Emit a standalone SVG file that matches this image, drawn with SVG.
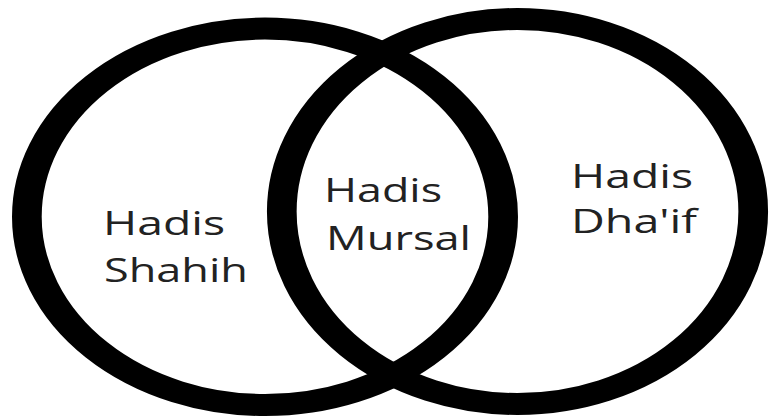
<svg xmlns="http://www.w3.org/2000/svg" width="769" height="418" viewBox="0 0 769 418">
<style>
.ring{fill:none;stroke:#000;stroke-width:22}
.lbl{font-family:"Open Sans","Noto Sans","DejaVu Sans",sans-serif;font-size:32px;fill:#222}
</style>
<rect width="769" height="418" fill="#fff"/>
<g id="set-shahih">
<ellipse class="ring" cx="0" cy="0" rx="176.4" ry="188.2" transform="translate(265,216.8) scale(1.35,1)"/>
</g>
<g id="set-dhaif">
<ellipse class="ring" cx="0" cy="0" rx="174.6" ry="192.5" transform="translate(517.5,211.5) scale(1.35,1)"/>
</g>
<g id="connectors"></g>
<g id="label-shahih">
<text class="lbl" x="103" y="235" textLength="122" lengthAdjust="spacingAndGlyphs">Hadis</text>
<text class="lbl" x="104" y="282" textLength="144" lengthAdjust="spacingAndGlyphs">Shahih</text>
</g>
<g id="label-mursal">
<text class="lbl" x="324" y="202" textLength="118" lengthAdjust="spacingAndGlyphs">Hadis</text>
<text class="lbl" x="326" y="250" textLength="145" lengthAdjust="spacingAndGlyphs">Mursal</text>
</g>
<g id="label-dhaif">
<text class="lbl" x="571" y="188" textLength="122" lengthAdjust="spacingAndGlyphs">Hadis</text>
<text class="lbl" x="571" y="233" textLength="126" lengthAdjust="spacingAndGlyphs">Dha'if</text>
</g>
</svg>
